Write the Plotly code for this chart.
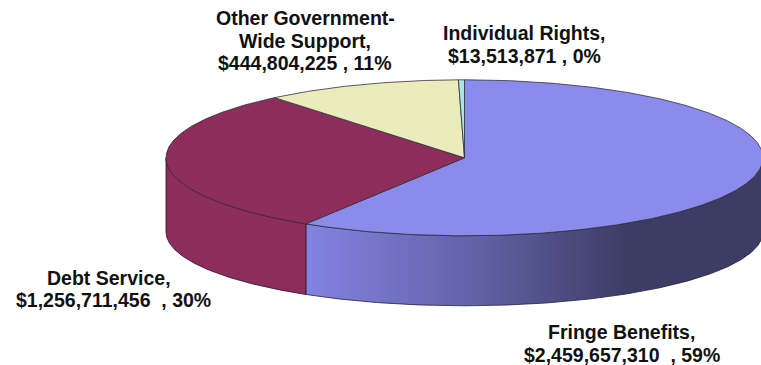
import numpy as np
import plotly.graph_objects as go

# Budget shares, drawn clockwise from twelve o'clock
categories = ["Fringe Benefits", "Debt Service", "Other Government-|Wide Support", "Individual Rights"]
amounts = [2459657310, 1256711456, 444804225, 13513871]
top_colors = ["#8B8BEB", "#8C2D5C", "#EBEBBB", "#ABE6E6"]

WIDTH, HEIGHT = 761, 365
RX, RY = 298.5, 78.0                   # top disc radii, in pixels
RY_LOW, DROP = 74.0, 74.0              # lower rim radius and its centre offset
CX, CY = 464.5, 157.8                  # disc centre, in pixels

total = sum(amounts)
edges = np.concatenate([[0], np.cumsum(amounts)]) / total * 2 * np.pi


def rim(a, b, lower=False):
    t = np.linspace(a, b, max(int((b - a) * 120), 3))
    if lower:
        return np.sin(t), (np.cos(t) * RY_LOW - DROP) / RY
    return np.sin(t), np.cos(t)


def wall(a, b):
    x1, y1 = rim(a, b)
    x2, y2 = rim(a, b, lower=True)
    return np.r_[x1, x2[::-1], x1[0]], np.r_[y1, y2[::-1], y1[0]]


fig = go.Figure()

# Side walls: only the front half of the disc shows a wall
x, y = wall(np.pi / 2, edges[1])
fig.add_trace(go.Scatter(
    x=x, y=y, mode="lines", fill="toself",
    line=dict(color="#22223A", width=0.8),
    fillgradient=dict(
        type="horizontal",
        colorscale=[[0, "#8383E2"], [0.55, "#6060A4"], [1, "#3C3C64"]],
        start=float(np.sin(edges[1])), stop=0.55,
    ),
))
x, y = wall(edges[1], 3 * np.pi / 2)
fig.add_trace(go.Scatter(
    x=x, y=y, mode="lines", fill="toself", fillcolor=top_colors[1],
    line=dict(color="#2A1020", width=0.8),
))

# Top faces
for i, color in enumerate(top_colors):
    xr, yr = rim(edges[i], edges[i + 1])
    fig.add_trace(go.Scatter(
        x=np.r_[0, xr, 0], y=np.r_[0, yr, 0], mode="lines", fill="toself",
        fillcolor=color, line=dict(color="#30303C", width=0.8),
    ))

# Slice captions, one annotation per line: (x centre, y centre) in pixels
caption_lines = [
    [(621.5, 332), (622, 355)],
    [(109, 278), (114, 300)],
    [(305, 18), (305, 40.5), (305, 63)],
    [(524, 33), (524, 56)],
]
amount_gap = ["\u00a0 ", "\u00a0 ", " ", " "]

for name, amount, gap, spots in zip(categories, amounts, amount_gap, caption_lines):
    pct = round(amount / total * 100)
    parts = name.split("|")
    parts[-1] += ","
    parts.append(f"${amount:,}{gap}, {pct}%")
    for text, (px, py) in zip(parts, spots):
        fig.add_annotation(
            xref="paper", yref="paper", x=px / WIDTH, y=1 - py / HEIGHT,
            xanchor="center", yanchor="middle", showarrow=False,
            text=f"<b>{text}</b>",
            font=dict(family="Liberation Sans, Arial, sans-serif", size=19.5, color="#111111"),
        )

fig.update_layout(
    width=WIDTH, height=HEIGHT, margin=dict(l=0, r=0, t=0, b=0),
    paper_bgcolor="white", plot_bgcolor="white", showlegend=False,
    hovermode=False,
    xaxis=dict(visible=False, range=[-CX / RX, (WIDTH - CX) / RX]),
    yaxis=dict(visible=False, range=[-(HEIGHT - CY) / RY, CY / RY]),
)
fig.write_html("out.html")
